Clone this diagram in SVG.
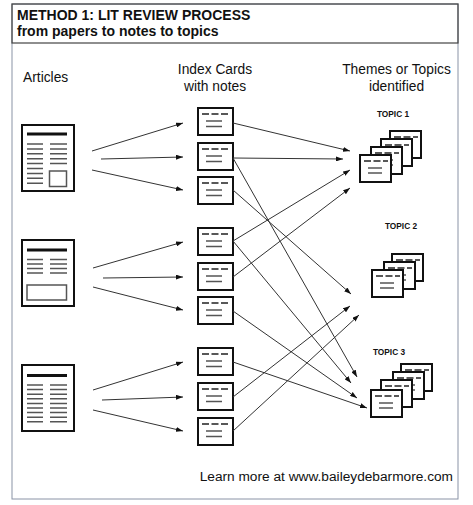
<svg xmlns="http://www.w3.org/2000/svg" xmlns:xlink="http://www.w3.org/1999/xlink" width="473" height="505" viewBox="0 0 473 505">
<style>
text{font-family:"Liberation Sans",Arial,sans-serif;fill:#111}
.title{font-size:14px;font-weight:bold}
.hdr{font-size:13.8px}
.tl{font-size:8.3px;font-weight:bold}
.foot{font-size:13.7px}
.box{fill:#fff;stroke:#111;stroke-width:2}
.gl{stroke:#555;stroke-width:1.5;fill:none}
.dl{stroke:#222;stroke-width:1.5;stroke-dasharray:7 2.5;fill:none}
.bar{fill:#111}
.con{stroke:#333;stroke-width:1;fill:none;marker-end:url(#ah)}
</style>
<defs>
<marker id="ah" markerWidth="7" markerHeight="5" refX="7" refY="2.5" orient="auto" markerUnits="userSpaceOnUse">
<path d="M0,0 L7,2.5 L0,5 z" fill="#111"/>
</marker>
<g id="icard">
<rect class="box" x="0" y="0" width="35" height="27"/>
<path class="dl" d="M4,6 H31"/>
<path class="gl" d="M8,13 H24 M8,18.5 H24"/>
</g>
<g id="tcard">
<rect class="box" x="0" y="0" width="31" height="27"/>
<path class="dl" d="M4,6 H28"/>
<path class="gl" d="M8,13 H22 M8,18 H22"/>
</g>
</defs>
<rect width="473" height="505" fill="#fff"/>
<g id="frame">
<rect x="12" y="4" width="446" height="495" fill="none" stroke="#8a93a6" stroke-width="1"/>
<rect x="12" y="4" width="446" height="39" fill="none" stroke="#444" stroke-width="1.2"/>
</g>
<g id="title">
<text class="title" x="17" y="20">METHOD 1: LIT REVIEW PROCESS</text>
<text class="title" x="17" y="36">from papers to notes to topics</text>
</g>
<g id="headers">
<text class="hdr" x="23" y="82">Articles</text>
<text class="hdr" x="215" y="74" text-anchor="middle">Index Cards</text>
<text class="hdr" x="215" y="91" text-anchor="middle">with notes</text>
<text class="hdr" x="396.5" y="74" text-anchor="middle">Themes or Topics</text>
<text class="hdr" x="396.5" y="91" text-anchor="middle">identified</text>
</g>
<g id="article1">
<rect class="box" x="22" y="125" width="52" height="66"/>
<rect class="bar" x="27" y="132.5" width="40" height="3"/>
<path class="gl" d="M27,144H43M27,148.9H43M27,153.8H43M27,158.7H43M27,163.6H43M27,168.5H43M27,173.4H43M27,178.3H43M27,183.2H43M50,144H67M50,148.9H67M50,153.8H67M50,158.7H67M50,163.6H67"/>
<rect x="49.5" y="171" width="17" height="15.5" fill="none" stroke="#555" stroke-width="1.5"/>
</g>
<g id="article2">
<rect class="box" x="22" y="240" width="52" height="66"/>
<rect class="bar" x="27" y="248.5" width="40" height="3"/>
<path class="gl" d="M27,259.5H43M27,264H43M27,268.5H43M27,273H43M50,259.5H67M50,264H67M50,268.5H67M50,273H67"/>
<rect x="27" y="285" width="39.5" height="15" fill="none" stroke="#555" stroke-width="1.5"/>
</g>
<g id="article3">
<rect class="box" x="22" y="365" width="52" height="66"/>
<rect class="bar" x="27" y="374" width="40" height="3"/>
<path class="gl" d="M27,385H43M27,389.6H43M27,394.2H43M27,398.8H43M27,403.4H43M27,408H43M27,412.6H43M27,417.2H43M27,421.8H43M50,385H67M50,389.6H67M50,394.2H67M50,398.8H67M50,403.4H67M50,408H67M50,412.6H67M50,417.2H67M50,421.8H67"/>
</g>
<g id="card1"><use xlink:href="#icard" x="198" y="108"/></g>
<g id="card2"><use xlink:href="#icard" x="198" y="143"/></g>
<g id="card3"><use xlink:href="#icard" x="198" y="177"/></g>
<g id="card4"><use xlink:href="#icard" x="198" y="228"/></g>
<g id="card5"><use xlink:href="#icard" x="198" y="263"/></g>
<g id="card6"><use xlink:href="#icard" x="198" y="297"/></g>
<g id="card7"><use xlink:href="#icard" x="198" y="348"/></g>
<g id="card8"><use xlink:href="#icard" x="198" y="383"/></g>
<g id="card9"><use xlink:href="#icard" x="198" y="418"/></g>
<g id="topic1">
<text class="tl" x="393" y="117" text-anchor="middle">TOPIC 1</text>
<use xlink:href="#tcard" x="390" y="131"/>
<use xlink:href="#tcard" x="381" y="139"/>
<use xlink:href="#tcard" x="371" y="147"/>
<use xlink:href="#tcard" x="360" y="155"/>
</g>
<g id="topic2">
<text class="tl" x="401" y="229" text-anchor="middle">TOPIC 2</text>
<use xlink:href="#tcard" x="392" y="254"/>
<use xlink:href="#tcard" x="384" y="262"/>
<use xlink:href="#tcard" x="372" y="270"/>
</g>
<g id="topic3">
<text class="tl" x="389" y="355" text-anchor="middle">TOPIC 3</text>
<use xlink:href="#tcard" x="401" y="364"/>
<use xlink:href="#tcard" x="393" y="372"/>
<use xlink:href="#tcard" x="381" y="380"/>
<use xlink:href="#tcard" x="371" y="390"/>
</g>
<g id="connectors">
<path class="con" d="M92,151 L183,123"/>
<path class="con" d="M101,159 L183,157"/>
<path class="con" d="M92,170 L183,190"/>
<path class="con" d="M93,268 L183,242"/>
<path class="con" d="M103,278 L183,277"/>
<path class="con" d="M93,287 L183,310"/>
<path class="con" d="M93,390 L183,362"/>
<path class="con" d="M102,400 L183,397"/>
<path class="con" d="M93,410 L183,431"/>
<path class="con" d="M233,123 L350,151"/>
<path class="con" d="M233,158 L343,159"/>
<path class="con" d="M233,158 L357,377"/>
<path class="con" d="M233,190 L351,294"/>
<path class="con" d="M233,241 L350,170"/>
<path class="con" d="M233,241 L351,383"/>
<path class="con" d="M233,277 L350,188"/>
<path class="con" d="M233,311 L357,398"/>
<path class="con" d="M233,362 L367,408"/>
<path class="con" d="M233,397 L350,306"/>
<path class="con" d="M233,431 L359,315"/>
</g>
<g id="footer">
<text class="foot" x="453" y="481" text-anchor="end">Learn more at www.baileydebarmore.com</text>
</g>
</svg>
